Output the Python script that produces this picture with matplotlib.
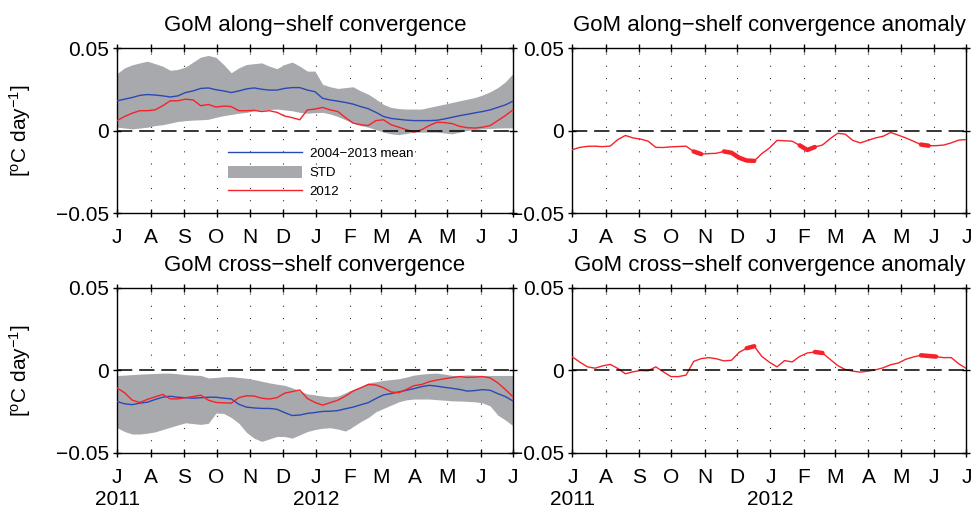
import numpy as np
import pandas as pd
import matplotlib
matplotlib.use('Agg')
import matplotlib.pyplot as plt
from matplotlib.patches import Patch
from matplotlib.lines import Line2D

plt.rcParams['font.family'] = ['Liberation Sans', 'DejaVu Sans']
plt.rcParams['mathtext.default'] = 'regular'

# roughly weekly samples from 1 Jul 2011 to 1 Jul 2012
days = np.linspace(0, 366, 53)

along_mean = [0.018, 0.019, 0.020, 0.0213, 0.0218, 0.0215, 0.021, 0.0203, 0.021, 0.023,
              0.024, 0.0255, 0.0258, 0.0247, 0.024, 0.023, 0.024, 0.0252, 0.0258, 0.025,
              0.0245, 0.0245, 0.0255, 0.026, 0.026, 0.0245, 0.0235, 0.0195, 0.0185, 0.0178,
              0.017, 0.016, 0.0145, 0.0132, 0.011, 0.0085, 0.0073, 0.0068, 0.0063, 0.006,
              0.006, 0.006, 0.0062, 0.007, 0.008, 0.009, 0.0098, 0.0107, 0.0115, 0.0125,
              0.014, 0.0155, 0.0178]
along_std_hi = [0.0345, 0.038, 0.0398, 0.041, 0.042, 0.0405, 0.039, 0.0365, 0.037, 0.0385,
                0.0415, 0.0445, 0.0455, 0.0443, 0.040, 0.035, 0.038, 0.040, 0.0405, 0.041,
                0.039, 0.0375, 0.040, 0.0415, 0.039, 0.036, 0.036, 0.028, 0.0265, 0.0255,
                0.026, 0.0265, 0.024, 0.022, 0.019, 0.0158, 0.014, 0.0133, 0.013, 0.013,
                0.013, 0.014, 0.015, 0.016, 0.017, 0.018, 0.019, 0.020, 0.0215, 0.0235,
                0.026, 0.0295, 0.0345]
along_std_lo = [0.002, 0.0015, 0.001, 0.0015, 0.002, 0.003, 0.0035, 0.0045, 0.0055, 0.006,
                0.0063, 0.0065, 0.0068, 0.008, 0.009, 0.0097, 0.0105, 0.011, 0.012, 0.0123,
                0.0127, 0.013, 0.0125, 0.012, 0.011, 0.0105, 0.0108, 0.011, 0.010, 0.0085,
                0.0065, 0.0045, 0.003, 0.002, 0.0005, -0.001, -0.002, -0.0025, -0.0018, -0.001,
                -0.001, -0.001, -0.001, -0.0015, -0.002, -0.001, 0.0, 0.0005, 0.001, 0.0012,
                0.0015, 0.0016, 0.0016]
along_2012 = [0.006, 0.0085, 0.0105, 0.012, 0.012, 0.0125, 0.015, 0.018, 0.018, 0.019,
              0.0185, 0.015, 0.0158, 0.0142, 0.0148, 0.0145, 0.012, 0.012, 0.0122, 0.0115,
              0.012, 0.011, 0.0088, 0.0078, 0.0065, 0.0125, 0.013, 0.014, 0.0125, 0.0115,
              0.0078, 0.0045, 0.0035, 0.003, 0.006, 0.0065, 0.0035, 0.002, 0.0005, -0.001,
              0.0005, 0.003, 0.005, 0.0048, 0.0042, 0.0025, 0.0017, 0.0015, 0.002, 0.003,
              0.006, 0.009, 0.0125]
along_anom = [-0.0116, -0.0102, -0.0096, -0.0095, -0.0098, -0.0094, -0.0055, -0.003, -0.0045, -0.0052,
              -0.0065, -0.0102, -0.0103, -0.0099, -0.0097, -0.0095, -0.0127, -0.0143, -0.014, -0.0138,
              -0.0127, -0.0135, -0.0165, -0.0182, -0.0184, -0.014, -0.0106, -0.006, -0.0062, -0.0065,
              -0.009, -0.0118, -0.010, -0.0088, -0.005, -0.0017, -0.0022, -0.006, -0.0075, -0.006,
              -0.0045, -0.0035, -0.0012, -0.0028, -0.0045, -0.0065, -0.0085, -0.0092, -0.0092, -0.0088,
              -0.0075, -0.0058, -0.0055]
# periods (days from 1 Jul 2011) where the anomaly is significant
along_sig = [(110, 121), (140, 170), (210, 226), (318, 331)]

cross_mean = [-0.0188, -0.0202, -0.0207, -0.0198, -0.0192, -0.0176, -0.0162, -0.0156, -0.0162, -0.0165,
              -0.0168, -0.0165, -0.0162, -0.0162, -0.0168, -0.0172, -0.0205, -0.0222, -0.0227, -0.023,
              -0.023, -0.0235, -0.0255, -0.0273, -0.027, -0.026, -0.0255, -0.0248, -0.0247, -0.0243,
              -0.0232, -0.0222, -0.0208, -0.0195, -0.017, -0.0148, -0.014, -0.013, -0.012, -0.011,
              -0.0098, -0.009, -0.0095, -0.0102, -0.0108, -0.0115, -0.0125, -0.0122, -0.0116, -0.012,
              -0.014, -0.0158, -0.0185]
cross_std_hi = [-0.003, -0.0028, -0.0025, -0.0022, -0.002, -0.0018, -0.0016, -0.0016, -0.002, -0.0025,
                -0.0028, -0.003, -0.0045, -0.0042, -0.0038, -0.0037, -0.0042, -0.0047, -0.0055, -0.0065,
                -0.0075, -0.0083, -0.009, -0.0105, -0.0125, -0.0142, -0.0148, -0.0155, -0.016, -0.0155,
                -0.0135, -0.0115, -0.0098, -0.0075, -0.0068, -0.006, -0.0055, -0.005, -0.004, -0.0028,
                -0.0022, -0.0018, -0.0016, -0.0022, -0.003, -0.003, -0.0027, -0.0028, -0.003, -0.003,
                -0.003, -0.003, -0.003]
cross_std_lo = [-0.0347, -0.037, -0.0385, -0.0385, -0.038, -0.0372, -0.0358, -0.0344, -0.033, -0.0317,
                -0.0322, -0.0327, -0.032, -0.0258, -0.026, -0.0285, -0.032, -0.0375, -0.041, -0.043,
                -0.0415, -0.040, -0.040, -0.041, -0.039, -0.037, -0.0358, -0.035, -0.0347, -0.0355,
                -0.0367, -0.034, -0.031, -0.0285, -0.025, -0.023, -0.021, -0.019, -0.0178, -0.0173,
                -0.0173, -0.0173, -0.0177, -0.018, -0.0184, -0.0185, -0.0187, -0.019, -0.0196, -0.0215,
                -0.027, -0.030, -0.0335]
cross_2012 = [-0.0106, -0.0135, -0.018, -0.0194, -0.0175, -0.016, -0.0145, -0.0172, -0.0172, -0.0165,
              -0.0158, -0.0149, -0.018, -0.0194, -0.0196, -0.0198, -0.0165, -0.0153, -0.0155, -0.0168,
              -0.0173, -0.0165, -0.0138, -0.0128, -0.0118, -0.017, -0.0194, -0.021, -0.0195, -0.018,
              -0.0155, -0.0125, -0.0105, -0.0085, -0.0088, -0.0105, -0.013, -0.0135, -0.0115, -0.0092,
              -0.0085, -0.0068, -0.0058, -0.005, -0.0043, -0.0037, -0.0042, -0.004, -0.0037, -0.0045,
              -0.0075, -0.0115, -0.016]
cross_anom = [0.0082, 0.005, 0.0022, 0.0014, 0.0028, 0.0037, 0.0012, -0.002, -0.0008, 0.0,
              -0.0002, 0.0022, -0.0008, -0.0037, -0.0037, -0.0028, 0.0055, 0.0072, 0.0078, 0.0071,
              0.0058, 0.0062, 0.011, 0.0135, 0.0147, 0.0085, 0.005, 0.0022, 0.006, 0.0052,
              0.0085, 0.0106, 0.0112, 0.0106, 0.0068, 0.003, 0.0006, -0.0004, -0.001, -0.0004,
              0.0004, 0.0016, 0.0035, 0.0045, 0.0068, 0.0082, 0.0092, 0.0088, 0.0084, 0.0078,
              0.0078, 0.004, 0.0012]
cross_sig = [(160, 170), (224, 233), (318, 340)]

month_labels = ['J', 'A', 'S', 'O', 'N', 'D', 'J', 'F', 'M', 'A', 'M', 'J', 'J']

BLUE = '#2c48b4'
RED = '#f5222a'
GRAY = '#a8a9ad'

t = pd.Timestamp('2011-07-01') + pd.to_timedelta(days, unit='D')
months = pd.date_range('2011-07-01', '2012-07-01', freq='MS')


def setup(ax, years=False, ylabel=False):
    ax.set_xlim(months[0], months[-1])
    ax.set_ylim(-0.05, 0.05)
    ax.set_yticks([-0.05, 0, 0.05])
    ax.set_yticklabels(['\u22120.05', '0', '0.05'])
    labels = list(month_labels)
    if years:
        labels[0] = 'J\n2011'
        labels[6] = 'J\n2012'
    ax.set_xticks(months)
    ax.set_xticklabels(labels)
    for lab in ax.get_xticklabels():
        lab.set_linespacing(1.15)
    ax.tick_params(direction='inout', length=6, width=1, top=True, right=True,
                   labelsize=15, pad=3)
    ax.tick_params(axis='x', pad=8)
    for m in months[1:-1]:
        ax.axvline(m, color='#333333', ls=(0, (1, 10)), lw=0.8, zorder=0.5)
    ax.axhline(0, color='k', ls=(0, (10, 4.5)), lw=1.1, zorder=5)
    for s in ax.spines.values():
        s.set_linewidth(1.0)
    if ylabel:
        ax.set_ylabel(r'[$^{o}$C day$^{-1}$]', fontsize=15)
        ax.yaxis.set_label_coords(-0.212, 0.5)


def draw_anomaly(ax, values, periods):
    values = np.asarray(values)
    ax.plot(t, values, color=RED, lw=1.0, zorder=3)
    for a, b in periods:
        m = (days >= a) & (days <= b)
        ax.plot(t[m], values[m], color=RED, lw=3.2, solid_capstyle='round', zorder=3)


fig = plt.figure(figsize=(9.71, 5.08), dpi=100)
ax1 = fig.add_axes([0.1205, 0.5807, 0.4078, 0.3248])
ax2 = fig.add_axes([0.5895, 0.5807, 0.4058, 0.3248])
ax3 = fig.add_axes([0.1205, 0.1083, 0.4078, 0.3248])
ax4 = fig.add_axes([0.5895, 0.1083, 0.4058, 0.3248])

# along-shelf
ax1.fill_between(t, along_std_lo, along_std_hi, color=GRAY, lw=0, zorder=1)
ax1.plot(t, along_mean, color=BLUE, lw=1.0, zorder=3)
ax1.plot(t, along_2012, color=RED, lw=1.0, zorder=3)
setup(ax1, ylabel=True)
ax1.set_title('GoM along\u2212shelf convergence', fontsize=16, pad=12)

handles = [Line2D([], [], color=BLUE, lw=1.0), Patch(color=GRAY, lw=0),
           Line2D([], [], color=RED, lw=1.0)]
ax1.legend(handles, ['2004\u22122013 mean', 'STD', '2012'], loc='center left',
           bbox_to_anchor=(0.28, 0.245), frameon=False, fontsize=9.5,
           handlelength=5.6, handleheight=1.05, labelspacing=0.4,
           handletextpad=0.6, borderpad=0, borderaxespad=0)

draw_anomaly(ax2, along_anom, along_sig)
setup(ax2)
ax2.set_title('GoM along\u2212shelf convergence anomaly', fontsize=16, pad=12)

# cross-shelf
ax3.fill_between(t, cross_std_lo, cross_std_hi, color=GRAY, lw=0, zorder=1)
ax3.plot(t, cross_mean, color=BLUE, lw=1.0, zorder=3)
ax3.plot(t, cross_2012, color=RED, lw=1.0, zorder=3)
setup(ax3, years=True, ylabel=True)
ax3.set_title('GoM cross\u2212shelf convergence', fontsize=16, pad=12)

draw_anomaly(ax4, cross_anom, cross_sig)
setup(ax4, years=True)
ax4.set_title('GoM cross\u2212shelf convergence anomaly', fontsize=16, pad=12)

fig.savefig('out.png', dpi=100)
